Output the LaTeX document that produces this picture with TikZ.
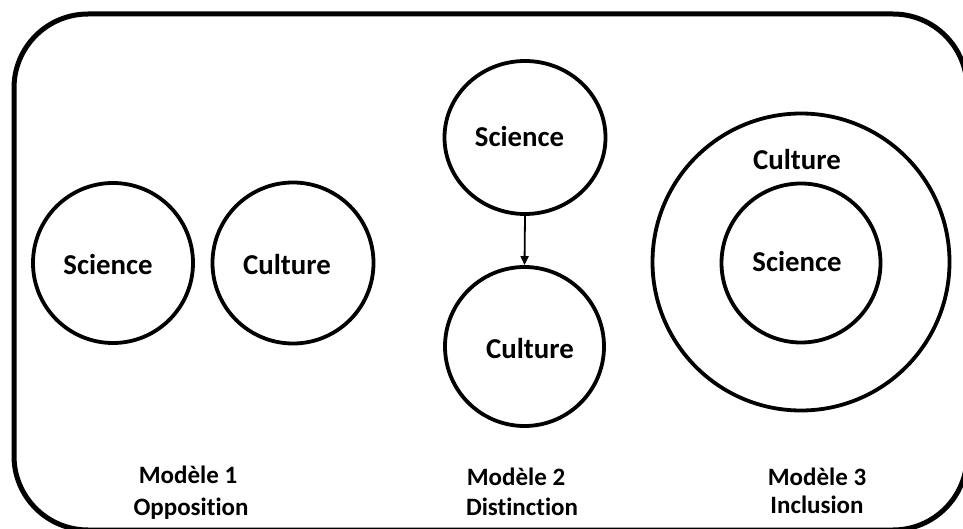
\documentclass[tikz,border=0pt]{standalone}
\usepackage{fontspec}
\setmainfont{Carlito}[Ligatures=NoCommon]
\usetikzlibrary{arrows.meta,shapes.geometric}
\begin{document}
\begin{tikzpicture}[x=1pt,y=-1pt,
  ring/.style={draw=black,line width=3.8pt,circle,inner sep=0pt},
  big/.style={font=\bfseries\fontsize{28.8}{33}\selectfont,inner sep=0pt},
  mlabel/.style={font=\bfseries\fontsize{25}{30}\selectfont,inner sep=0pt,anchor=base}]
\useasboundingbox (0,0) rectangle (963,529);
\clip (0,0) rectangle (963,529);
\draw[line width=5pt,rounded corners=74pt] (14,14) rectangle (967,530);
% Model 1
\node[ring,minimum size=160pt] (s1) at (113,263) {};
\node[ring,minimum size=161pt] (c1) at (293,263) {};
\node[big] (s1t) at (108,265) {Science};
\node[big] (c1t) at (287,265) {Culture};
% Model 2
\node[draw=black,line width=3.8pt,ellipse,inner sep=0pt,minimum width=161pt,minimum height=153pt] (s2) at (525,137.5) {};
\node[ring,minimum size=159pt] (c2) at (524.5,346.5) {};
\node[big] (s2t) at (519.5,137) {Science};
\node[big] (c2t) at (530,348) {Culture};
\draw[line width=1.8pt,-{Triangle[length=9pt,width=8pt]}] (s2.south) -- (c2.north);
% Model 3
\node[ring,minimum size=297pt] (c3) at (801,262) {};
\node[ring,minimum size=159pt] (s3) at (801,263) {};
\node[big] (c3t) at (797,160) {Culture};
\node[big] (s3t) at (797,262) {Science};
% captions
\node[mlabel] (m1) at (188,483) {Modèle 1};
\node[mlabel] (o1) at (191,515) {Opposition};
\node[mlabel] (m2) at (516,485) {Modèle 2};
\node[mlabel] (o2) at (522,515) {Distinction};
\node[mlabel] (m3) at (817,485) {Modèle 3};
\node[mlabel] (o3) at (817,513) {Inclusion};
\end{tikzpicture}
\end{document}
